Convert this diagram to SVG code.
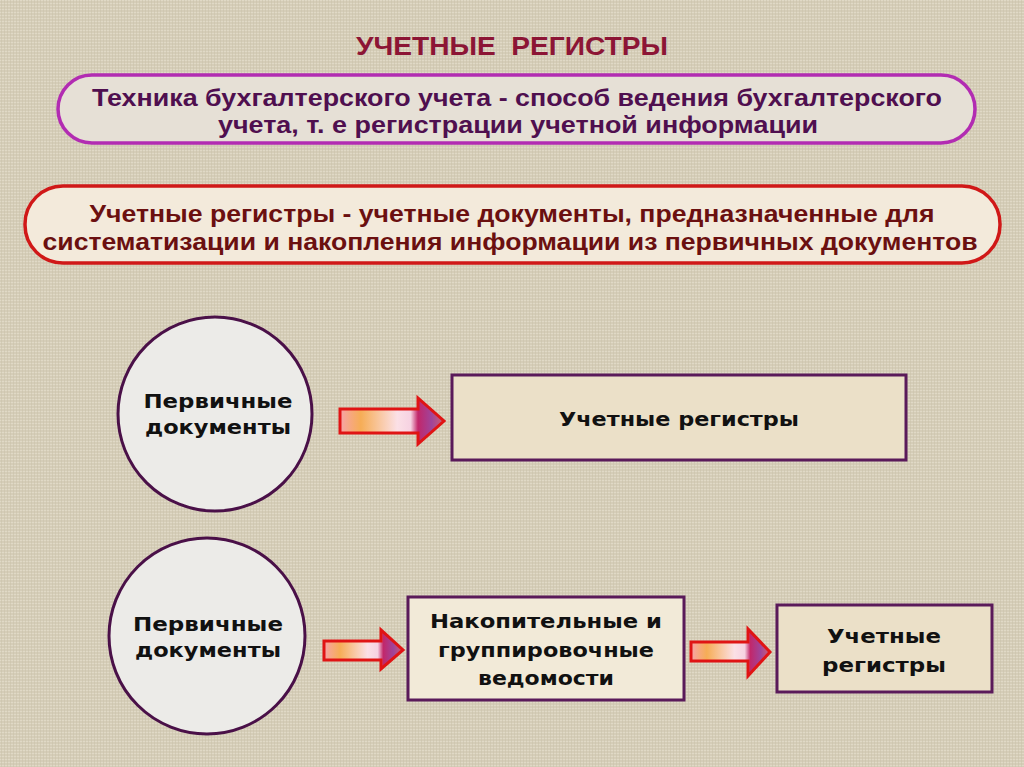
<svg xmlns="http://www.w3.org/2000/svg" width="1024" height="767" viewBox="0 0 1024 767">
<defs>
<linearGradient id="arrowGrad" x1="0" y1="0" x2="1" y2="0">
<stop offset="0" stop-color="#f7a3a8"/>
<stop offset="0.2" stop-color="#f6ad56"/>
<stop offset="0.55" stop-color="#fbe0e6"/>
<stop offset="0.68" stop-color="#f6d2e2"/>
<stop offset="0.75" stop-color="#c2276a"/>
<stop offset="0.88" stop-color="#a0449a"/>
<stop offset="1" stop-color="#d06070"/>
</linearGradient>
<pattern id="tex" width="6" height="6" patternUnits="userSpaceOnUse">
<rect width="6" height="6" fill="#d5cdb8"/>
<path d="M0 0.5H6M0 3.5H6" stroke="#e0d9c6" stroke-width="1"/>
<path d="M1.5 0V6M4.5 0V6" stroke="#cbc2ab" stroke-width="0.6"/>
</pattern>
<style>
.title{font-family:"Liberation Sans",Arial,sans-serif;font-weight:bold;font-size:25px;fill:#8c1535}
.cond{font-family:"Liberation Sans",Arial,sans-serif;font-weight:bold;font-size:24px}
.purp{fill:#4f0f4f}
.red{fill:#6b1010}
.lbl{font-family:"DejaVu Sans",Verdana,sans-serif;font-weight:bold;font-size:19px;fill:#111}
.circ{fill:#ecebe8;stroke:#4a1048;stroke-width:3}
.box{stroke:#5a1a5a;stroke-width:3}
.arrow{fill:url(#arrowGrad);stroke:#e01414;stroke-width:3;stroke-linejoin:miter}
</style>
</defs>
<rect width="1024" height="767" fill="url(#tex)"/>
<text class="title" x="512" y="55" text-anchor="middle" textLength="312" lengthAdjust="spacingAndGlyphs">УЧЕТНЫЕ&#160; РЕГИСТРЫ</text>

<g id="technique">
<rect x="58" y="75" width="917" height="68" rx="34" fill="#e6e0d6" stroke="#b22cb2" stroke-width="3.5"/>
<text class="cond purp" x="517" y="106" text-anchor="middle" textLength="850" lengthAdjust="spacingAndGlyphs">Техника бухгалтерского учета - способ ведения бухгалтерского</text>
<text class="cond purp" x="518" y="133" text-anchor="middle" textLength="600" lengthAdjust="spacingAndGlyphs">учета, т. е регистрации учетной информации</text>
</g>

<g id="definition">
<rect x="25" y="186" width="975" height="77" rx="38" fill="#f3eadb" stroke="#d01818" stroke-width="3.5"/>
<text class="cond red" x="512" y="222" text-anchor="middle" textLength="845" lengthAdjust="spacingAndGlyphs">Учетные регистры - учетные документы, предназначенные для</text>
<text class="cond red" x="510" y="250" text-anchor="middle" textLength="935" lengthAdjust="spacingAndGlyphs">систематизации и накопления информации из первичных документов</text>
</g>

<g id="primary1">
<circle class="circ" cx="215" cy="414" r="97"/>
<text class="lbl" x="218" y="408" text-anchor="middle" textLength="149" lengthAdjust="spacingAndGlyphs">Первичные</text>
<text class="lbl" x="218" y="434" text-anchor="middle" textLength="146" lengthAdjust="spacingAndGlyphs">документы</text>
</g>

<g id="registers1">
<rect class="box" x="452" y="375" width="454" height="85" fill="#ebe0c8"/>
<text class="lbl" x="679" y="426" text-anchor="middle" textLength="240" lengthAdjust="spacingAndGlyphs">Учетные регистры</text>
</g>

<g id="primary2">
<circle class="circ" cx="207" cy="636" r="98"/>
<text class="lbl" x="208" y="631" text-anchor="middle" textLength="150" lengthAdjust="spacingAndGlyphs">Первичные</text>
<text class="lbl" x="208" y="657" text-anchor="middle" textLength="146" lengthAdjust="spacingAndGlyphs">документы</text>
</g>

<g id="ledgers">
<rect class="box" x="408" y="597" width="276" height="103" fill="#f2ead8"/>
<text class="lbl" x="546" y="628" text-anchor="middle" textLength="232" lengthAdjust="spacingAndGlyphs">Накопительные и</text>
<text class="lbl" x="546" y="657" text-anchor="middle" textLength="216" lengthAdjust="spacingAndGlyphs">группировочные</text>
<text class="lbl" x="546" y="685" text-anchor="middle" textLength="136" lengthAdjust="spacingAndGlyphs">ведомости</text>
</g>

<g id="registers2">
<rect class="box" x="777" y="605" width="215" height="87" fill="#ebe0c8"/>
<text class="lbl" x="884" y="643" text-anchor="middle" textLength="114" lengthAdjust="spacingAndGlyphs">Учетные</text>
<text class="lbl" x="884" y="672" text-anchor="middle" textLength="124" lengthAdjust="spacingAndGlyphs">регистры</text>
</g>

<g id="connectors">
<path class="arrow" d="M340 409 H418 V398 L444 421 L418 444 V433 H340 Z"/>
<path class="arrow" d="M324 641 H381 V630 L403 650 L381 669 V660 H324 Z"/>
<path class="arrow" d="M691 642 H748 V629 L770 652 L748 676 V661 H691 Z"/>
</g>
</svg>
